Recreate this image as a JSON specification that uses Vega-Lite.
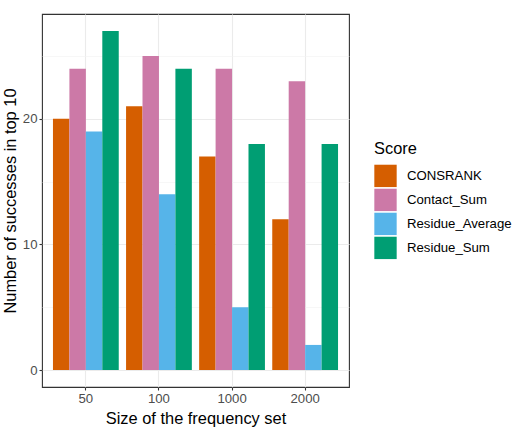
{
  "$schema": "https://vega.github.io/schema/vega-lite/v6.json",
  "autosize": "none",
  "width": 307,
  "height": 373,
  "padding": {"left": 42, "top": 14, "right": 171, "bottom": 42},
  "background": "white",
  "config": {
    "font": "Liberation Sans",
    "view": {"stroke": "#333333", "strokeWidth": 1.1},
    "axis": {
      "domain": false,
      "grid": true,
      "gridColor": "#EBEBEB",
      "gridWidth": 1.1,
      "tickColor": "#333333",
      "tickSize": 3,
      "tickWidth": 1.1,
      "labelColor": "#4D4D4D",
      "labelFontSize": 13.2,
      "labelPadding": 2,
      "titleColor": "#000000",
      "titleFontSize": 16.4,
      "titleFontWeight": "normal"
    }
  },
  "data": {
    "values": [
      {"size": "50", "Score": "CONSRANK", "n": 20},
      {"size": "50", "Score": "Contact_Sum", "n": 24},
      {"size": "50", "Score": "Residue_Average", "n": 19},
      {"size": "50", "Score": "Residue_Sum", "n": 27},
      {"size": "100", "Score": "CONSRANK", "n": 21},
      {"size": "100", "Score": "Contact_Sum", "n": 25},
      {"size": "100", "Score": "Residue_Average", "n": 14},
      {"size": "100", "Score": "Residue_Sum", "n": 24},
      {"size": "1000", "Score": "CONSRANK", "n": 17},
      {"size": "1000", "Score": "Contact_Sum", "n": 24},
      {"size": "1000", "Score": "Residue_Average", "n": 5},
      {"size": "1000", "Score": "Residue_Sum", "n": 18},
      {"size": "2000", "Score": "CONSRANK", "n": 12},
      {"size": "2000", "Score": "Contact_Sum", "n": 23},
      {"size": "2000", "Score": "Residue_Average", "n": 2},
      {"size": "2000", "Score": "Residue_Sum", "n": 18}
    ]
  },
  "mark": {"type": "bar"},
  "encoding": {
    "x": {
      "field": "size",
      "type": "nominal",
      "sort": ["50", "100", "1000", "2000"],
      "scale": {"paddingInner": 0.1, "paddingOuter": 0.15},
      "axis": {"title": "Size of the frequency set", "labelAngle": 0, "titlePadding": 6, "bandPosition": 0.5}
    },
    "xOffset": {
      "field": "Score",
      "type": "nominal",
      "scale": {"paddingInner": 0, "paddingOuter": 0}
    },
    "y": {
      "field": "n",
      "type": "quantitative",
      "scale": {"domain": [-1.35, 28.35], "nice": false, "zero": false},
      "axis": {
        "title": "Number of successes in top 10",
        "values": [0, 5, 10, 15, 20, 25],
        "labelExpr": "datum.value % 10 === 0 ? datum.label : ''",
        "tickOpacity": {"condition": {"test": "datum.value % 10 !== 0", "value": 0}, "value": 1},
        "gridWidth": {"condition": {"test": "datum.value % 10 !== 0", "value": 0.6}, "value": 1.1},
        "gridColor": {"condition": {"test": "datum.value % 10 !== 0", "value": "#F2F2F2"}, "value": "#EBEBEB"},
        "titlePadding": 4
      }
    },
    "y2": {"datum": 0},
    "color": {
      "field": "Score",
      "type": "nominal",
      "scale": {
        "domain": ["CONSRANK", "Contact_Sum", "Residue_Average", "Residue_Sum"],
        "range": ["#D55E00", "#CC79A7", "#56B4E9", "#009E73"]
      },
      "legend": {
        "orient": "none",
        "legendX": 332,
        "legendY": 127,
        "title": "Score",
        "titleFontSize": 16.4,
        "titleFontWeight": "normal",
        "titleColor": "#000000",
        "titlePadding": 7,
        "symbolType": "square",
        "symbolSize": 500,
        "symbolStrokeWidth": 0,
        "symbolOpacity": 1,
        "labelFontSize": 13.2,
        "labelColor": "#000000",
        "labelOffset": 10,
        "rowPadding": 1
      }
    }
  }
}
